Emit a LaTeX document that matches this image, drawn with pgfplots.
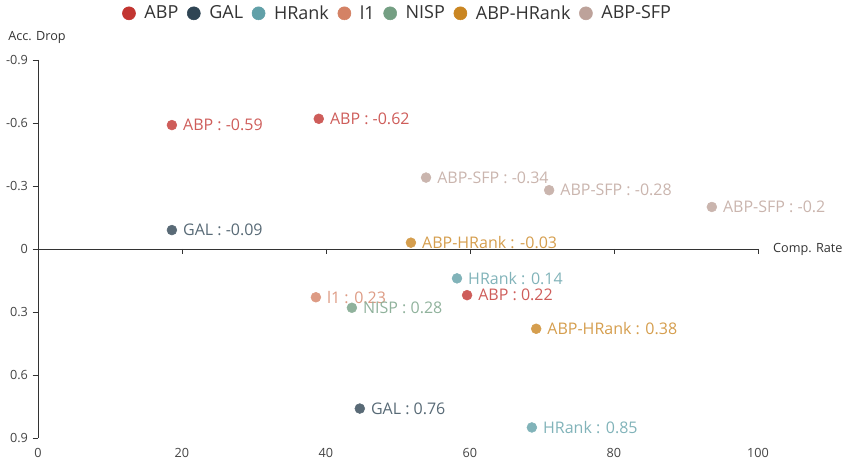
\documentclass[border=0pt]{standalone}
\usepackage{fontspec}
\setmainfont{Open Sans}
\usepackage{pgfplots}
\pgfplotsset{compat=1.18}
\definecolor{cABP}{HTML}{C23531}
\definecolor{cGAL}{HTML}{2F4554}
\definecolor{cHR}{HTML}{61A0A8}
\definecolor{cL1}{HTML}{D48265}
\definecolor{cNISP}{HTML}{749F83}
\definecolor{cAH}{HTML}{CA8622}
\definecolor{cAS}{HTML}{BDA29A}
\definecolor{axgray}{HTML}{333333}
\definecolor{tkgray}{HTML}{444444}
\pgfplotsset{
  pts/.style={only marks, mark=*, mark size=3.7pt, color=#1!80!white,
    nodes near coords, point meta=explicit symbolic,
    every node near coord/.append style={anchor=west, xshift=4.9pt,
      font=\fontsize{12}{14}\selectfont, text=#1!80!white},
    legend image code/.code={\fill[#1] (4.9pt,0pt) circle (4.9pt);}},
}
\begin{document}
\begin{tikzpicture}
\begin{axis}[
  at={(0,0)}, anchor=south west,
  scale only axis, width=540pt, height=283.5pt,
  xmin=0, xmax=100, ymin=-0.9, ymax=0.9, y dir=reverse,
  axis x line*=bottom, axis y line*=left,
  x axis line style={draw=none},
  y axis line style={axgray, -},
  xtick={0,20,40,60,80,100}, ytick={-0.9,-0.6,-0.3,0,0.3,0.6,0.9},
  major x tick style={draw=none},
  major y tick style={axgray},
  tick align=outside, major tick length=4pt,
  /pgf/number format/assume math mode=true,
  /pgf/number format/fixed,
  ticklabel style={font=\fontsize{9.5}{11}\selectfont, text=tkgray},
  clip=false,
  legend columns=-1,
  legend style={draw=none, at={(0.5,1)}, anchor=center, yshift=35pt,
    font=\fontsize{13.5}{15}\selectfont, text=axgray,
    /tikz/every odd column/.append style={column sep=4.5pt},
    /tikz/every even column/.append style={column sep=4.5pt}},
  legend cell align=left,
]
\addplot[pts=cABP] coordinates {
  (18.6,-0.59) [ABP : -0.59]
  (39.0,-0.62) [ABP : -0.62]
  (59.6,0.22) [ABP : 0.22]
};
\addlegendentry{ABP}
\addplot[pts=cGAL] coordinates {
  (18.6,-0.09) [GAL : -0.09]
  (44.7,0.76) [GAL : 0.76]
};
\addlegendentry{GAL}
\addplot[pts=cHR] coordinates {
  (58.2,0.14) [HRank : 0.14]
  (68.6,0.85) [HRank : 0.85]
};
\addlegendentry{HRank}
\addplot[pts=cL1] coordinates {
  (38.6,0.23) [l1 : 0.23]
};
\addlegendentry{l1}
\addplot[pts=cNISP] coordinates {
  (43.6,0.28) [NISP : 0.28]
};
\addlegendentry{NISP}
\addplot[pts=cAH] coordinates {
  (51.8,-0.03) [ABP-HRank : -0.03]
  (69.2,0.38) [ABP-HRank : 0.38]
};
\addlegendentry{ABP-HRank}
\addplot[pts=cAS] coordinates {
  (53.9,-0.34) [ABP-SFP : -0.34]
  (71.0,-0.28) [ABP-SFP : -0.28]
  (93.6,-0.2) [ABP-SFP : -0.2]
};
\addlegendentry{ABP-SFP}
% zero line with its ticks
\draw[axgray] (axis cs:0,0) -- (axis cs:100,0);
\draw[axgray] (axis cs:20,0) -- ([yshift=-4pt]axis cs:20,0);
\draw[axgray] (axis cs:40,0) -- ([yshift=-4pt]axis cs:40,0);
\draw[axgray] (axis cs:60,0) -- ([yshift=-4pt]axis cs:60,0);
\draw[axgray] (axis cs:80,0) -- ([yshift=-4pt]axis cs:80,0);
\draw[axgray] (axis cs:100,0) -- ([yshift=-4pt]axis cs:100,0);
\node[anchor=west, font=\fontsize{9.5}{11}\selectfont, text=axgray]
  at ([xshift=7.9pt]axis cs:100,0) {Comp. Rate};
\node[anchor=west, font=\fontsize{9.5}{11}\selectfont, text=axgray]
  at ([xshift=-25.8pt,yshift=17pt]axis description cs:0,1) {Acc. Drop};
\end{axis}
\useasboundingbox (-28.5pt,-27pt) rectangle (606.75pt,328.5pt);
\end{tikzpicture}
\end{document}
